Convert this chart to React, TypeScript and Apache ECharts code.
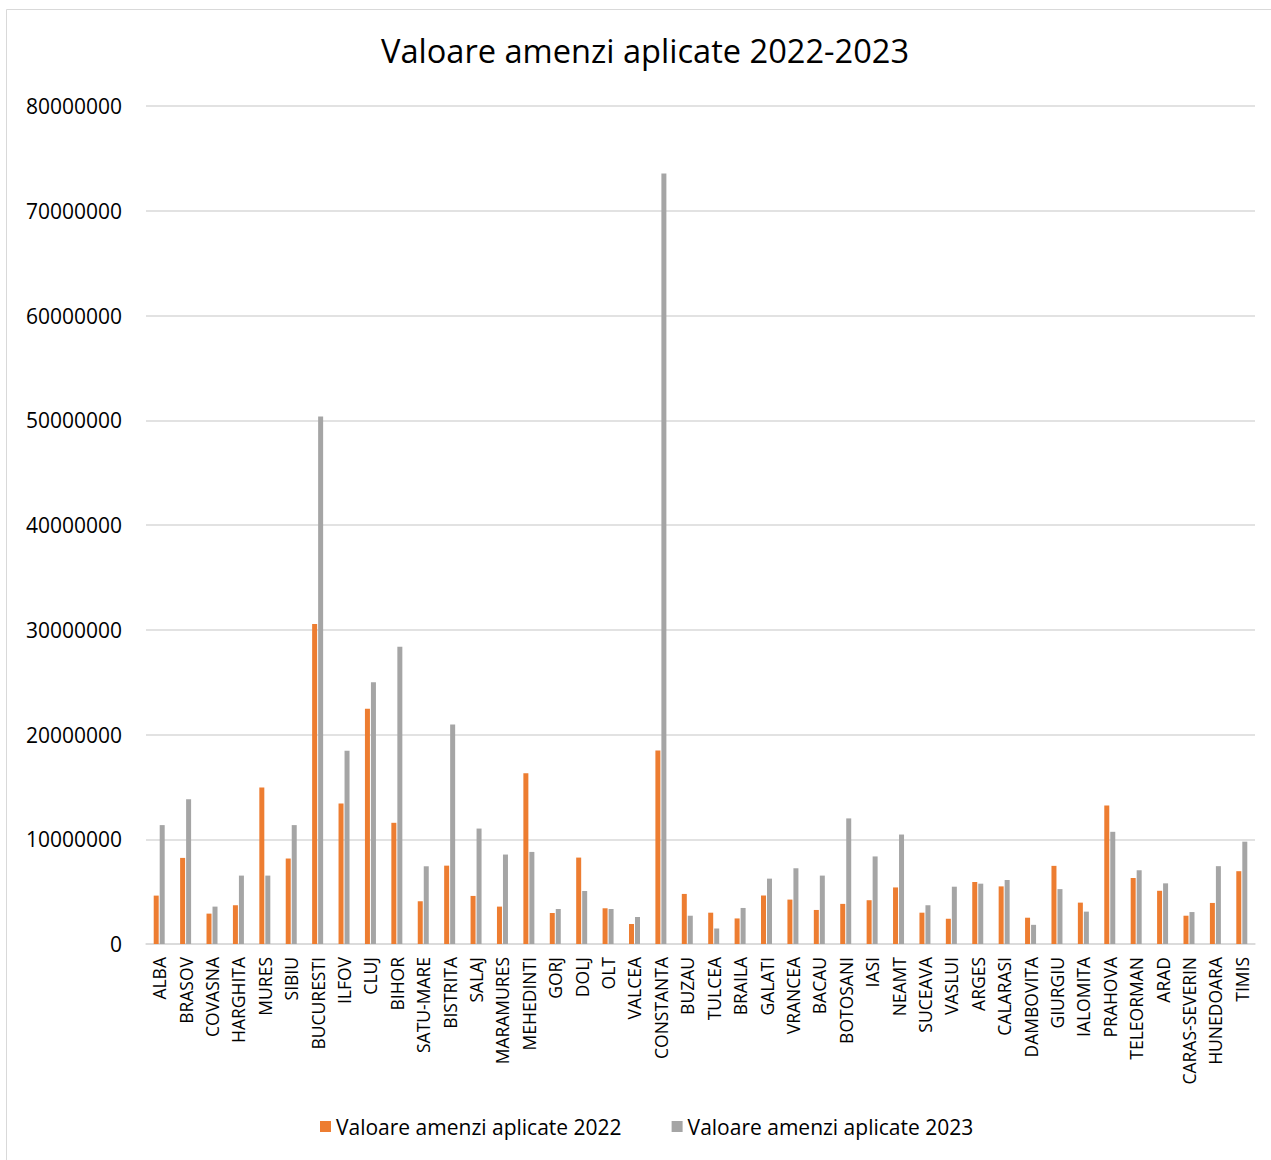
import React, { useEffect, useRef } from "react";
import * as echarts from "echarts";

const counties = [
  "ALBA", "BRASOV", "COVASNA", "HARGHITA", "MURES", "SIBIU", "BUCURESTI", "ILFOV", "CLUJ", "BIHOR",
  "SATU-MARE", "BISTRITA", "SALAJ", "MARAMURES", "MEHEDINTI", "GORJ", "DOLJ", "OLT", "VALCEA", "CONSTANTA",
  "BUZAU", "TULCEA", "BRAILA", "GALATI", "VRANCEA", "BACAU", "BOTOSANI", "IASI", "NEAMT", "SUCEAVA",
  "VASLUI", "ARGES", "CALARASI", "DAMBOVITA", "GIURGIU", "IALOMITA", "PRAHOVA", "TELEORMAN", "ARAD", "CARAS-SEVERIN",
  "HUNEDOARA", "TIMIS",
];

const fines2022 = [
  4620000, 8220000, 2900000, 3700000, 14950000, 8160000, 30540000, 13420000, 22470000, 11570000,
  4080000, 7480000, 4590000, 3570000, 16310000, 2960000, 8250000, 3410000, 1910000, 18470000,
  4780000, 2990000, 2440000, 4630000, 4240000, 3250000, 3830000, 4180000, 5400000, 2990000,
  2410000, 5920000, 5500000, 2510000, 7460000, 3950000, 13220000, 6300000, 5080000, 2700000,
  3920000, 6950000,
];

const fines2023 = [
  11350000, 13830000, 3570000, 6530000, 6530000, 11350000, 50350000, 18460000, 24990000, 28370000,
  7420000, 20960000, 11020000, 8540000, 8790000, 3340000, 5060000, 3340000, 2580000, 73560000,
  2700000, 1480000, 3440000, 6240000, 7230000, 6530000, 11990000, 8360000, 10450000, 3700000,
  5470000, 5760000, 6110000, 1830000, 5240000, 3090000, 10710000, 7040000, 5790000, 3050000,
  7430000, 9770000,
];

const seriesNames = ["Valoare amenzi aplicate 2022", "Valoare amenzi aplicate 2023"];
const titleText = "Valoare amenzi aplicate 2022-2023";

const FONT = "'Open Sans', 'Noto Sans', sans-serif";

export default function App() {
  const ref = useRef<HTMLDivElement>(null);

  useEffect(() => {
    if (!ref.current) return;
    const chart = echarts.init(ref.current, null, { renderer: "svg" });
    chart.setOption({
      animation: false,
      backgroundColor: "#ffffff",
      textStyle: { fontFamily: FONT },
      title: {
        text: titleText,
        left: 640,
        textAlign: "center",
        top: 29,
        textStyle: { fontFamily: FONT, fontSize: 32.6, fontWeight: "normal", color: "#000000" },
      },
      graphic: [
        {
          type: "rect",
          shape: { x: 6.5, y: 9.5, width: 1400, height: 1400 },
          style: { fill: "none", stroke: "#D9D9D9", lineWidth: 1 },
          silent: true,
        },
      ],
      legend: {
        left: 315,
        top: 1111,
        itemWidth: 11,
        itemHeight: 11,
        itemGap: 50,
        icon: "rect",
        textStyle: { fontFamily: FONT, fontSize: 21, color: "#000000" },
        data: seriesNames,
      },
      grid: { left: 146, right: 16, top: 106, bottom: 1160 - 944, containLabel: false },
      xAxis: {
        type: "category",
        data: counties,
        axisLine: { lineStyle: { color: "#D9D9D9", width: 1.5 } },
        axisTick: { show: false },
        axisLabel: {
          rotate: 90,
          interval: 0,
          margin: 13,
          fontFamily: FONT,
          fontSize: 17.5,
          color: "#000000",
        },
      },
      yAxis: {
        type: "value",
        min: 0,
        max: 80000000,
        interval: 10000000,
        axisLine: { show: false },
        axisTick: { show: false },
        splitLine: { lineStyle: { color: "#D9D9D9", width: 1.5 } },
        axisLabel: {
          margin: 24,
          fontFamily: FONT,
          fontSize: 21,
          color: "#000000",
          formatter: (v: number) => String(v),
        },
      },
      series: [
        {
          name: seriesNames[0],
          type: "bar",
          data: fines2022,
          barWidth: 5,
          barGap: "20%",
          itemStyle: { color: "#ED7D31" },
        },
        {
          name: seriesNames[1],
          type: "bar",
          data: fines2023,
          barWidth: 5,
          itemStyle: { color: "#A5A5A5" },
        },
      ],
    });
    return () => chart.dispose();
  }, []);

  return (
    <div
      ref={ref}
      style={{ position: "absolute", left: 0, top: 0, width: 1271, height: 1160 }}
    />
  );
}
